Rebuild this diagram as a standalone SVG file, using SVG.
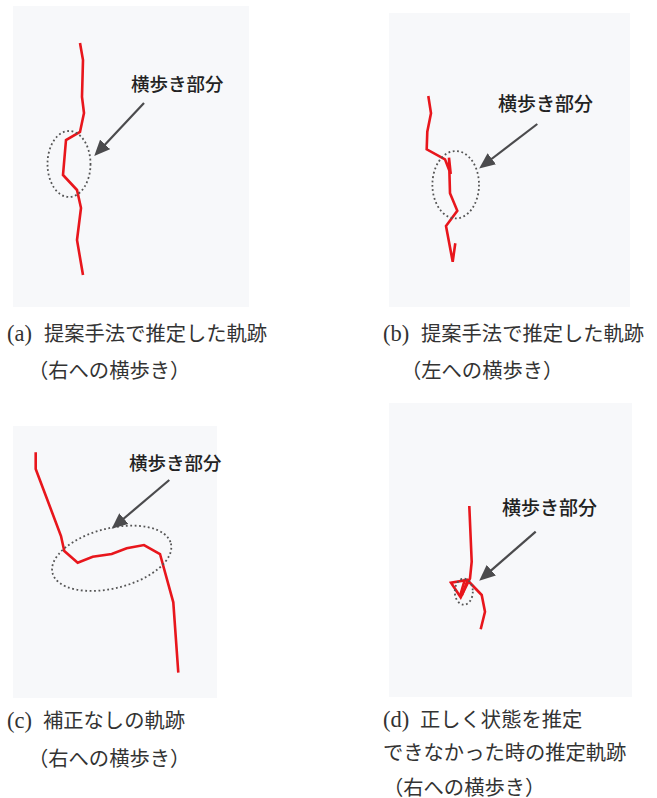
<svg xmlns="http://www.w3.org/2000/svg" width="657" height="798" viewBox="0 0 657 798">
<style>
.bg{fill:#f7f8fa;stroke:none}
.trk{fill:none;stroke:#e8161c;stroke-width:2.6;stroke-linejoin:miter;stroke-linecap:butt}
.ell{fill:none;stroke:#555;stroke-width:1.8;stroke-dasharray:1.8 2.6}
.arr{stroke:#4b4b4d;stroke-width:2.2;fill:none}
.lbl{font-family:"Noto Sans CJK JP","Noto Sans",sans-serif;font-weight:500;fill:#222}
.cap{font-family:"Liberation Serif","Noto Sans CJK JP",serif;font-size:20.3px;fill:#333}
.lat{font-size:22.5px}
</style>
<defs>
<marker id="ah" markerUnits="userSpaceOnUse" markerWidth="16" markerHeight="14" refX="7" refY="7" orient="auto">
<path d="M0,0 L16,7 L0,14 z" fill="#4b4b4d"/>
</marker>
</defs>

<g id="panel-a">
<rect class="bg" x="13" y="6" width="236" height="301"/>
<polyline class="trk" points="80,43 83,60 82,97 84,113 80,132 66,140 63,175 77,190 81,208 77,240 83,275"/>
<ellipse class="ell" cx="69" cy="164" rx="21.5" ry="33"/>
<text class="lbl" x="131" y="91" font-size="18.5">横歩き部分</text>
</g>

<g id="panel-b">
<rect class="bg" x="389" y="13" width="241" height="294"/>
<polyline class="trk" points="428.3,96 431,113.3 427.3,131.7 426.7,149.3 445,159.3 450.7,174 449,157.7 450,193.3 457.3,210.7 446,226 452.7,261.7 455.3,243.3"/>
<ellipse class="ell" cx="455.7" cy="184.7" rx="23.3" ry="33.7"/>
<text class="lbl" x="498" y="110.5" font-size="19">横歩き部分</text>
</g>

<g id="panel-c">
<rect class="bg" x="13" y="426" width="204" height="272"/>
<polyline class="trk" points="35.7,452.3 35.7,469 61,536 64.3,551 77.7,562.7 92.7,556.7 111.7,554 126.7,548.3 144,545 160,554 173.3,602.3 178.3,672.7"/>
<ellipse class="ell" cx="111.7" cy="558.3" rx="61" ry="30" transform="rotate(-14 111.7 558.3)"/>
<text class="lbl" x="129" y="469.5" font-size="18.5">横歩き部分</text>
</g>

<g id="panel-d">
<rect class="bg" x="389" y="403" width="243" height="294"/>
<polyline class="trk" points="469.3,506 471.7,561.7 470,578.3 460.7,597.3 451,582.7 467.3,580 481.7,595 485,611.7 480.7,629.3"/>
<line class="trk" x1="465" y1="579" x2="460" y2="596"/>
<line class="trk" x1="468" y1="579" x2="462" y2="595"/>
<ellipse class="ell" cx="463.8" cy="591.7" rx="9" ry="13"/>
<text class="lbl" x="502" y="515" font-size="19">横歩き部分</text>
</g>

<g id="connectors">
<line class="arr" x1="144" y1="103" x2="100.4" y2="149.5" marker-end="url(#ah)"/>
<line class="arr" x1="537.3" y1="124" x2="486.3" y2="163" marker-end="url(#ah)"/>
<line class="arr" x1="169.3" y1="480" x2="118.5" y2="523" marker-end="url(#ah)"/>
<line class="arr" x1="535.7" y1="531.7" x2="486" y2="574.8" marker-end="url(#ah)"/>
</g>

<g id="captions">
<text class="cap" x="7" y="341"><tspan class="lat">(a)</tspan><tspan x="44">提案手法で推定した軌跡</tspan></text>
<text class="cap" x="28" y="378">（右への横歩き）</text>
<text class="cap" x="383" y="341"><tspan class="lat">(b)</tspan><tspan x="421">提案手法で推定した軌跡</tspan></text>
<text class="cap" x="401" y="378">（左への横歩き）</text>
<text class="cap" x="7" y="728"><tspan class="lat">(c)</tspan><tspan x="43">補正なしの軌跡</tspan></text>
<text class="cap" x="28" y="766">（右への横歩き）</text>
<text class="cap" x="383" y="727"><tspan class="lat">(d)</tspan><tspan x="420">正しく状態を推定</tspan></text>
<text class="cap" x="383" y="760">できなかった時の推定軌跡</text>
<text class="cap" x="383" y="795">（右への横歩き）</text>
</g>
</svg>
